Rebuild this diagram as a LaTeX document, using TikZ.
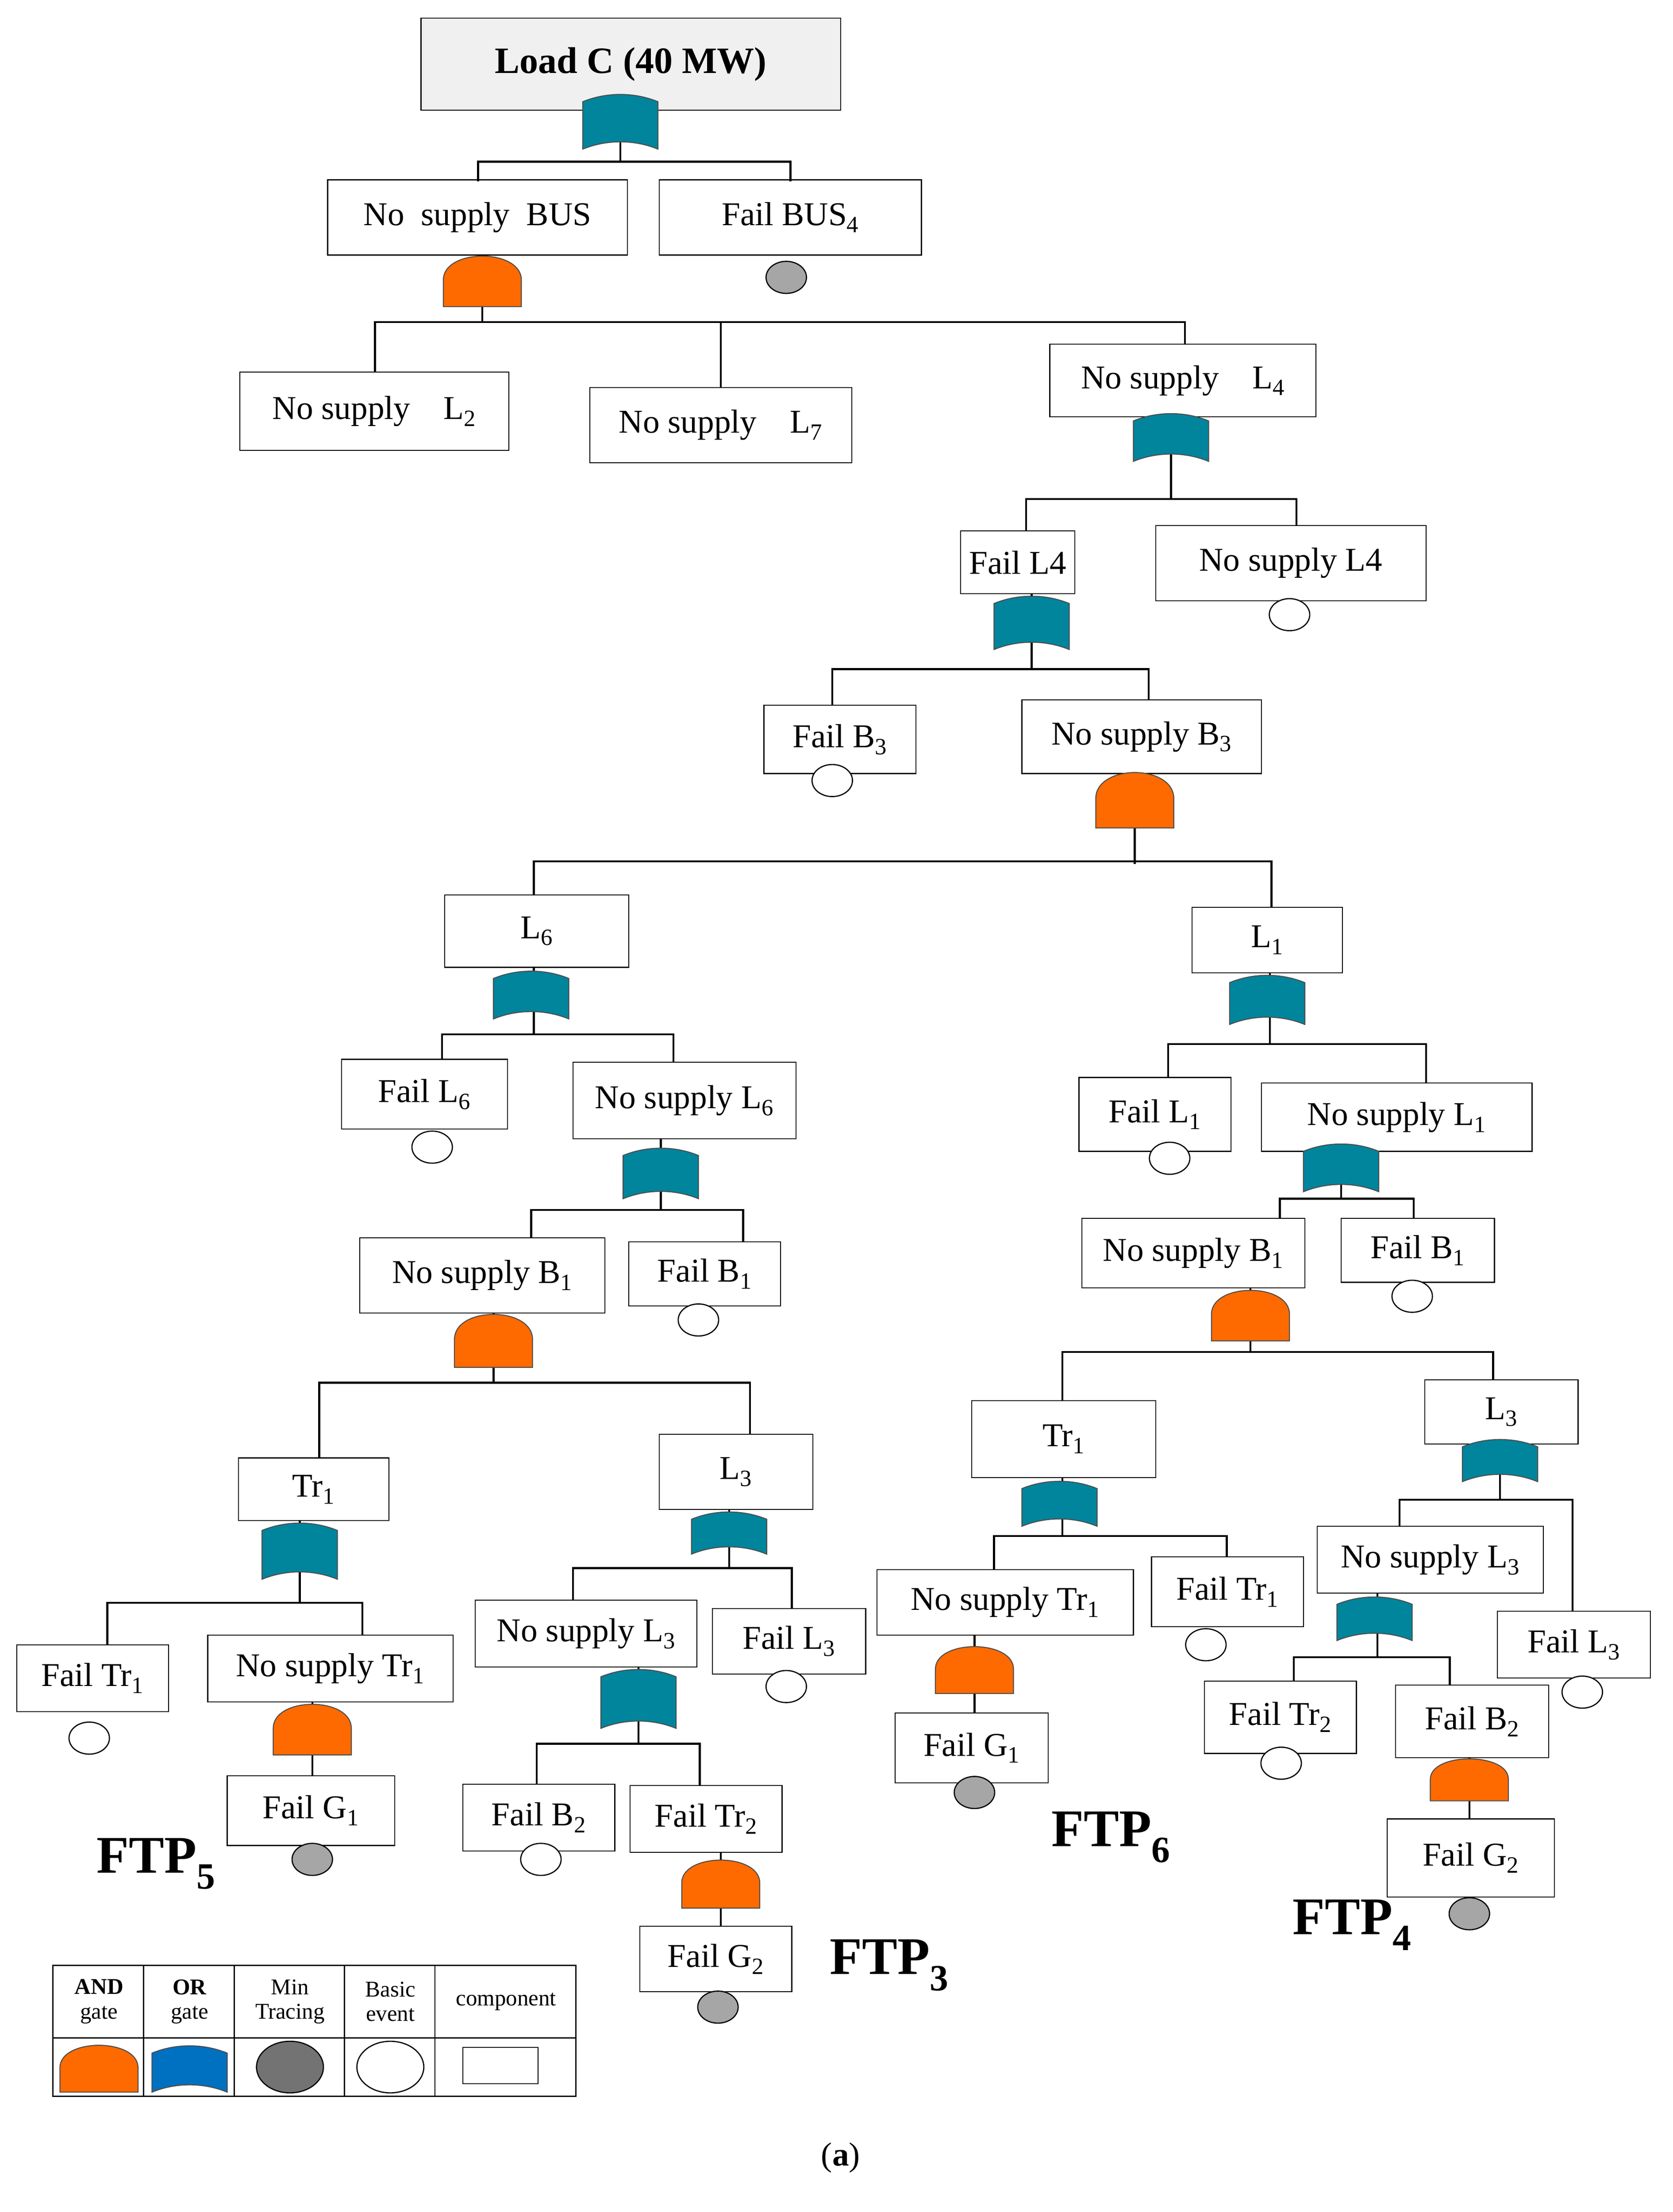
\documentclass[tikz,border=0pt]{standalone}
\usepackage{fontspec}
\setmainfont{Liberation Serif}
\definecolor{tealg}{HTML}{00859C}
\definecolor{orng}{HTML}{FF6A00}
\definecolor{blueg}{HTML}{0070C0}
\definecolor{grey}{HTML}{A6A6A6}
\newcommand\bx[6]{\pgfmathsetmacro\ww{(#4-#2)*0.05}\pgfmathsetmacro\hh{(#5-#3)*0.05}%
\node[box,minimum width=\ww cm,minimum height=\hh cm] (#1) at ({(#2+#4)/2},{(#3+#5)/2}) {#6};}
\newcommand\orgate[4][tealg]{\filldraw[fill=#1,draw=black!70,line width=1pt] ({#2-27},#4) -- ({#2-27},{#3+5}) .. controls ({#2-10},{#3-2}) and ({#2+10},{#3-2}) .. ({#2+27},{#3+5}) -- ({#2+27},#4) .. controls ({#2+10},{#4-7}) and ({#2-10},{#4-7}) .. cycle;}
\newcommand\andgate[3]{\filldraw[fill=orng,draw=black!70,line width=1pt] ({#1-28},#3) -- ({#1-28},{(#2+#3)/2}) .. controls ({#1-28},{#2-4}) and ({#1+28},{#2-4}) .. ({#1+28},{(#2+#3)/2}) -- ({#1+28},#3) -- cycle;}
\newcommand\ev[3]{\node[ev,fill=#3] (#1) at #2 {};}
\tikzset{box/.style={draw,line width=1pt,inner sep=0pt,font=\fontsize{34}{38}\selectfont},
 ev/.style={draw,line width=1.2pt,ellipse,minimum width=1.45cm,minimum height=1.15cm,inner sep=0},
 ln/.style={line width=2pt},
 ftp/.style={font=\fontsize{54}{60}\selectfont\bfseries},
 lg/.style={font=\fontsize{23}{25}\selectfont,align=center}}
\usetikzlibrary{shapes.geometric}
\begin{document}
\begin{tikzpicture}[x=0.05cm,y=-0.05cm]
\useasboundingbox (0,0) rectangle (1200,1587);
\def\s#1{\textsubscript{#1}}
% top
\node[box,fill=gray!12,minimum width=15.05cm,minimum height=3.3cm,font=\fontsize{38}{42}\selectfont\bfseries] (top) at (452.5,46) {Load C (40 MW)};
\draw[ln] (445,79) -- (445,116) (343,130) -- (343,116) -- (567,116) -- (567,130);
\orgate{445}{68}{107}
\bx{nsbus}{235}{129}{450}{183}{No\ \ supply\ \ BUS}
\bx{fbus}{473}{129}{661}{183}{Fail BUS\s4}
\ev{e1}{(564,199)}{grey}
\draw[ln] (346,183) -- (346,231) (269,267) -- (269,231) -- (850,231) -- (850,247) (517,231) -- (517,278);
\andgate{346}{182}{220}
\bx{l2}{172}{267}{365}{323}{No supply\quad L\s2}
\bx{l7}{423}{278}{611}{332}{No supply\quad L\s7}
\bx{l4}{753}{247}{944}{299}{No supply\quad L\s4}
\draw[ln] (840,299) -- (840,358) (736,381) -- (736,358) -- (930,358) -- (930,377);
\orgate{840}{297}{331}
\bx{fl4}{689}{381}{771}{426}{Fail L4}
\bx{nl4}{829}{377}{1023}{431}{No supply L4}
\ev{e2}{(925,441)}{white}
\draw[ln] (740,426) -- (740,480) (597,506) -- (597,480) -- (824,480) -- (824,502);
\orgate{740}{428}{466}
\bx{fb3}{548}{506}{657}{555}{Fail B\s3}
\ev{e3}{(597,560)}{white}
\bx{nb3}{733}{502}{905}{555}{No supply B\s3}
\draw[ln] (814,555) -- (814,620) (383,642) -- (383,618) -- (912,618) -- (912,651);
\andgate{814}{552}{594}
\bx{l6}{319}{642}{451}{694}{L\s6}
\bx{l1}{855}{651}{963}{698}{L\s1}
% L6 branch
\draw[ln] (383,694) -- (383,742) (317,760) -- (317,742) -- (483,742) -- (483,762);
\orgate{381}{697}{731}
\bx{fl6}{245}{760}{364}{810}{Fail L\s6}
\ev{e4}{(310,823)}{white}
\bx{nl6}{411}{762}{571}{817}{No supply L\s6}
\draw[ln] (474,817) -- (474,868) (381,888) -- (381,868) -- (533,868) -- (533,891);
\orgate{474}{824}{860}
\bx{nb1}{258}{888}{434}{942}{No supply B\s1}
\bx{fb1}{451}{891}{560}{937}{Fail B\s1}
\ev{e5}{(501,947)}{white}
\draw[ln] (354,942) -- (354,992) (229,1046) -- (229,992) -- (538,992) -- (538,1029);
\andgate{354}{941}{981}
\bx{tr1}{171}{1046}{279}{1091}{Tr\s1}
\bx{l3}{473}{1029}{583}{1083}{L\s3}
\draw[ln] (215,1091) -- (215,1150) (77,1180) -- (77,1150) -- (260,1150) -- (260,1173);
\orgate{215}{1093}{1133}
\bx{ftr1}{12}{1180}{121}{1228}{Fail Tr\s1}
\ev{e6}{(64,1247)}{white}
\bx{ntr1}{149}{1173}{325}{1221}{No supply Tr\s1}
\draw[ln] (224,1221) -- (224,1274);
\andgate{224}{1221}{1259}
\bx{fg1}{163}{1274}{283}{1324}{Fail G\s1}
\ev{e7}{(224,1334)}{grey}
\node[ftp] at (112,1337) {FTP\s5};
\draw[ln] (523,1083) -- (523,1125) (411,1148) -- (411,1125) -- (568,1125) -- (568,1154);
\orgate{523}{1085}{1115}
\bx{nl3}{341}{1148}{500}{1196}{No supply L\s3}
\bx{fl3}{511}{1154}{621}{1201}{Fail L\s3}
\ev{e8}{(564,1210)}{white}
\draw[ln] (458,1196) -- (458,1251) (385,1280) -- (385,1251) -- (502,1251) -- (502,1281);
\orgate{458}{1198}{1240}
\bx{fb2}{332}{1280}{441}{1328}{Fail B\s2}
\ev{e9}{(388,1334)}{white}
\bx{ftr2}{452}{1281}{561}{1329}{Fail Tr\s2}
\draw[ln] (517,1329) -- (517,1382);
\andgate{517}{1333}{1369}
\bx{fg2}{459}{1382}{568}{1429}{Fail G\s2}
\ev{e10}{(515,1440)}{grey}
\node[ftp] at (638,1410) {FTP\s3};
% L1 branch
\draw[ln] (911,698) -- (911,749) (838,773) -- (838,749) -- (1023,749) -- (1023,777);
\orgate{909}{700}{735}
\bx{fl1}{774}{773}{883}{826}{Fail L\s1}
\ev{e11}{(839,831)}{white}
\bx{nl1}{905}{777}{1099}{826}{No supply L\s1}
\draw[ln] (962,826) -- (962,860) (918,874) -- (918,860) -- (1014,860) -- (1014,874);
\orgate{962}{821}{855}
\bx{nb1r}{776}{874}{936}{924}{No supply B\s1}
\bx{fb1r}{962}{874}{1072}{920}{Fail B\s1}
\ev{e12}{(1013,930)}{white}
\draw[ln] (897,924) -- (897,970) (762,1005) -- (762,970) -- (1071,970) -- (1071,990);
\andgate{897}{924}{962}
\bx{tr1r}{697}{1005}{829}{1060}{Tr\s1}
\bx{l3r}{1022}{990}{1132}{1036}{L\s3}
\draw[ln] (762,1060) -- (762,1102) (713,1126) -- (713,1102) -- (880,1102) -- (880,1117);
\orgate{760}{1063}{1095}
\bx{ntr1r}{629}{1126}{813}{1173}{No supply Tr\s1}
\bx{ftr1r}{826}{1117}{935}{1167}{Fail Tr\s1}
\ev{e13}{(865,1180)}{white}
\draw[ln] (699,1173) -- (699,1229);
\andgate{699}{1180}{1215}
\bx{fg1r}{642}{1229}{752}{1279}{Fail G\s1}
\ev{e14}{(699,1286)}{grey}
\node[ftp] at (797,1318) {FTP\s6};
\draw[ln] (1076,1036) -- (1076,1076) (1004,1095) -- (1004,1076) -- (1128,1076) -- (1128,1156);
\orgate{1076}{1033}{1063}
\bx{nl3r}{945}{1095}{1107}{1143}{No supply L\s3}
\bx{fl3r}{1074}{1156}{1184}{1204}{Fail L\s3}
\ev{e15}{(1135,1214)}{white}
\draw[ln] (988,1143) -- (988,1189) (928,1206) -- (928,1189) -- (1040,1189) -- (1040,1209);
\orgate{986}{1146}{1177}
\bx{ftr2r}{864}{1206}{973}{1258}{Fail Tr\s2}
\ev{e16}{(919,1265)}{white}
\bx{fb2r}{1001}{1209}{1111}{1261}{Fail B\s2}
\draw[ln] (1054,1261) -- (1054,1305);
\andgate{1054}{1261}{1292}
\bx{fg2r}{995}{1305}{1115}{1361}{Fail G\s2}
\ev{e17}{(1054,1373)}{grey}
\node[ftp] at (970,1381) {FTP\s4};
% legend
\draw[line width=1.2pt] (38,1410) rectangle (413,1504) (38,1462) -- (413,1462)
 (103,1410) -- (103,1504) (168,1410) -- (168,1504) (247,1410) -- (247,1504) (312,1410) -- (312,1504);
\node[lg] at (71,1436) {\textbf{AND}\\gate};
\node[lg] at (136,1436) {\textbf{OR}\\gate};
\node[lg] at (208,1436) {Min\\Tracing};
\node[lg] at (280,1436) {Basic\\event};
\node[lg] at (363,1436) {component};
\andgate{71}{1466}{1501}
\orgate[blueg]{136}{1468}{1501}
\node[ev,fill=gray!90!black,minimum width=2.4cm,minimum height=1.85cm] (lmin) at (208,1483) {};
\node[ev,fill=white,minimum width=2.4cm,minimum height=1.85cm] (lbas) at (280,1483) {};
\node[draw,line width=1pt,minimum width=2.7cm,minimum height=1.3cm] (lcomp) at (359,1482) {};
\node[font=\fontsize{34}{38}\selectfont] at (603,1548) {(\textbf{a})};
\end{tikzpicture}
\end{document}
